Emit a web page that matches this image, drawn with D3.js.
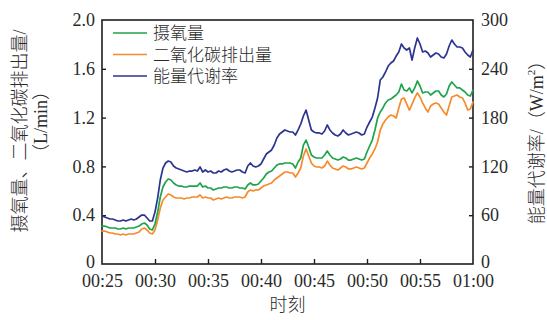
<!DOCTYPE html>
<html>
<head>
<meta charset="utf-8">
<script src="https://cdn.jsdelivr.net/npm/d3@7"></script>
<style>
  html, body { margin: 0; padding: 0; background: #fff; }
  svg { display: block; }
  text { font-family: "Liberation Serif", "Times New Roman", "Noto Sans CJK SC", serif; fill: #2a2a2a; }
  .cjk { font-weight: 300; }
</style>
</head>
<body>
<svg id="chart" width="547" height="320"></svg>
<script>
// Samples every 15 s from 00:25 to 01:00 (minutes after midnight)
const startMinute = 25;
const stepMinutes = 0.25;

// Oxygen uptake, L/min
const oxygenUptake = [
  0.311, 0.311, 0.303, 0.295, 0.295, 0.295, 0.287, 0.287, 0.295, 0.287,
  0.295, 0.295, 0.295, 0.303, 0.311, 0.328, 0.336, 0.320, 0.287, 0.279,
  0.328, 0.426, 0.549, 0.631, 0.672, 0.697, 0.689, 0.664, 0.648, 0.639,
  0.639, 0.631, 0.631, 0.639, 0.639, 0.639, 0.639, 0.664, 0.631, 0.639,
  0.623, 0.623, 0.607, 0.615, 0.623, 0.623, 0.631, 0.631, 0.623, 0.623,
  0.631, 0.631, 0.623, 0.623, 0.615, 0.648, 0.664, 0.648, 0.648, 0.656,
  0.680, 0.705, 0.738, 0.754, 0.762, 0.787, 0.811, 0.820, 0.820, 0.828,
  0.828, 0.828, 0.820, 0.787, 0.836, 0.869, 0.975, 1.016, 0.959, 0.893,
  0.877, 0.869, 0.869, 0.869, 0.893, 0.926, 0.893, 0.869, 0.861, 0.852,
  0.861, 0.877, 0.869, 0.852, 0.852, 0.861, 0.869, 0.861, 0.852, 0.861,
  0.918, 0.967, 1.016, 1.098, 1.197, 1.246, 1.279, 1.320, 1.344, 1.352,
  1.369, 1.385, 1.410, 1.475, 1.426, 1.418, 1.443, 1.402, 1.443, 1.500,
  1.459, 1.402, 1.410, 1.410, 1.385, 1.402, 1.418, 1.418, 1.385, 1.369,
  1.393, 1.459, 1.492, 1.467, 1.443, 1.443, 1.426, 1.410, 1.385, 1.377,
  1.426
];

// Carbon dioxide output, L/min
const co2Output = [
  0.270, 0.270, 0.262, 0.254, 0.254, 0.246, 0.246, 0.238, 0.246, 0.238,
  0.246, 0.246, 0.246, 0.254, 0.262, 0.287, 0.295, 0.279, 0.254, 0.246,
  0.279, 0.361, 0.459, 0.525, 0.549, 0.574, 0.566, 0.549, 0.541, 0.541,
  0.541, 0.533, 0.541, 0.541, 0.549, 0.549, 0.549, 0.566, 0.541, 0.549,
  0.541, 0.541, 0.525, 0.533, 0.541, 0.533, 0.541, 0.549, 0.541, 0.541,
  0.549, 0.549, 0.549, 0.541, 0.549, 0.590, 0.607, 0.598, 0.607, 0.607,
  0.623, 0.639, 0.648, 0.656, 0.664, 0.689, 0.705, 0.721, 0.738, 0.754,
  0.754, 0.746, 0.746, 0.713, 0.746, 0.787, 0.885, 0.943, 0.885, 0.828,
  0.803, 0.795, 0.795, 0.787, 0.803, 0.844, 0.811, 0.787, 0.779, 0.770,
  0.787, 0.803, 0.795, 0.779, 0.779, 0.787, 0.795, 0.787, 0.779, 0.787,
  0.828, 0.869, 0.902, 0.943, 1.000, 1.098, 1.148, 1.180, 1.205, 1.221,
  1.213, 1.197, 1.279, 1.352, 1.361, 1.311, 1.262, 1.311, 1.361, 1.402,
  1.369, 1.320, 1.279, 1.246, 1.295, 1.311, 1.320, 1.311, 1.279, 1.246,
  1.221, 1.295, 1.369, 1.377, 1.385, 1.369, 1.361, 1.320, 1.262, 1.270,
  1.328
];

// Energy metabolic rate, W/m²
const metabolicRate = [
  59.0, 57.8, 56.6, 55.3, 55.3, 54.1, 52.9, 52.9, 54.1, 52.9,
  54.1, 55.3, 54.1, 55.3, 57.8, 60.2, 60.2, 56.6, 52.9, 52.9,
  63.9, 81.1, 103.3, 118.0, 124.2, 126.6, 125.4, 120.5, 118.0, 116.8,
  115.6, 114.3, 113.1, 114.3, 114.3, 115.6, 114.3, 119.3, 113.1, 115.6,
  113.1, 114.3, 111.9, 111.9, 114.3, 113.1, 115.6, 116.8, 114.3, 113.1,
  114.3, 115.6, 115.6, 113.1, 111.9, 120.5, 124.2, 120.5, 119.3, 120.5,
  123.0, 129.1, 135.2, 137.7, 140.2, 146.3, 154.9, 159.8, 162.3, 164.8,
  163.5, 162.3, 162.3, 158.6, 164.8, 172.1, 182.0, 189.3, 177.0, 164.8,
  162.3, 161.1, 161.1, 159.8, 163.5, 170.9, 164.8, 161.1, 158.6, 157.4,
  159.8, 164.8, 161.1, 158.6, 159.8, 161.1, 162.3, 161.1, 158.6, 159.8,
  168.4, 174.6, 180.7, 191.8, 204.1, 226.2, 229.9, 236.1, 243.4, 247.1,
  249.6, 255.7, 260.7, 270.5, 265.6, 263.1, 265.6, 250.8, 265.6, 277.9,
  270.5, 260.7, 261.9, 259.4, 254.5, 257.0, 259.4, 258.2, 254.5, 253.3,
  258.2, 268.0, 275.4, 270.5, 266.8, 266.8, 265.6, 260.7, 257.0, 254.5,
  263.1
];

const xTicks = [25, 30, 35, 40, 45, 50, 55, 60];
const xTickLabels = ["00:25", "00:30", "00:35", "00:40", "00:45", "00:50", "00:55", "01:00"];
const leftTicks = [0, 0.4, 0.8, 1.2, 1.6, 2.0];
const leftTickLabels = ["0", "0.4", "0.8", "1.2", "1.6", "2.0"];
const rightTicks = [0, 60, 120, 180, 240, 300];
const rightTickLabels = ["0", "60", "120", "180", "240", "300"];
const legendNames = ["摄氧量", "二氧化碳排出量", "能量代谢率"];
const seriesColors = ["#1ea34b", "#f68b2d", "#2b3490"];

const svg = d3.select("#chart");
const plot = { left: 102, right: 473, top: 20, bottom: 264 };

const x = d3.scaleLinear().domain([25, 60]).range([plot.left, plot.right]);
const yLeft = d3.scaleLinear().domain([0, 2]).range([plot.bottom, plot.top]);
const yRight = d3.scaleLinear().domain([0, 300]).range([plot.bottom, plot.top]);

const minuteAt = i => startMinute + i * stepMinutes;

// Frame around the plotting area
svg.append("rect")
  .attr("x", plot.left).attr("y", plot.top)
  .attr("width", plot.right - plot.left).attr("height", plot.bottom - plot.top)
  .attr("fill", "none").attr("stroke", "#1e1e1e").attr("stroke-width", 1.6);

// Axes with inward ticks
const styleAxis = g => {
  g.select(".domain").remove();
  g.selectAll(".tick line").attr("stroke", "#1e1e1e").attr("stroke-width", 1.4);
  g.selectAll(".tick text").attr("font-size", 18).attr("fill", "#2a2a2a")
    .attr("font-family", "'Liberation Serif', 'Times New Roman', serif");
};

svg.append("g")
  .attr("transform", `translate(0,${plot.bottom})`)
  .call(d3.axisBottom(x).tickValues(xTicks).tickFormat((d, i) => xTickLabels[i])
    .tickSizeInner(-5).tickSizeOuter(0).tickPadding(10))
  .call(styleAxis)
  .call(g => g.selectAll(".tick").filter(d => d === 25 || d === 60).select("line").remove());

svg.append("g")
  .attr("transform", `translate(${plot.left},0)`)
  .call(d3.axisLeft(yLeft).tickValues(leftTicks).tickFormat((d, i) => leftTickLabels[i])
    .tickSizeInner(-4).tickSizeOuter(0).tickPadding(7))
  .call(styleAxis)
  .call(g => g.selectAll(".tick").filter(d => d === 0 || d === 2).select("line").remove())
  .call(g => g.selectAll(".tick").filter(d => d === 0).select("text").attr("dy", "0.2em"));

svg.append("g")
  .attr("transform", `translate(${plot.right},0)`)
  .call(d3.axisRight(yRight).tickValues(rightTicks).tickFormat((d, i) => rightTickLabels[i])
    .tickSizeInner(-4).tickSizeOuter(0).tickPadding(8))
  .call(styleAxis)
  .call(g => g.selectAll(".tick").filter(d => d === 0 || d === 300).select("line").remove())
  .call(g => g.selectAll(".tick").filter(d => d === 0).select("text").attr("dy", "0.2em"));

// Series lines
const lineLeft = d3.line().x((d, i) => x(minuteAt(i))).y(d => yLeft(d));
const lineRight = d3.line().x((d, i) => x(minuteAt(i))).y(d => yRight(d));

const drawSeries = (values, gen, color) =>
  svg.append("path").datum(values)
    .attr("d", gen)
    .attr("fill", "none")
    .attr("stroke", color)
    .attr("stroke-width", 1.7)
    .attr("stroke-linejoin", "round")
    .attr("stroke-linecap", "round");

drawSeries(co2Output, lineLeft, seriesColors[1]);
drawSeries(oxygenUptake, lineLeft, seriesColors[0]);
drawSeries(metabolicRate, lineRight, seriesColors[2]);

// Legend
const legend = svg.append("g").attr("transform", "translate(113,33)");
legendNames.forEach((name, i) => {
  const row = legend.append("g").attr("transform", `translate(0,${i * 21.5})`);
  row.append("line").attr("x1", 0).attr("x2", 34).attr("y1", 0).attr("y2", 0)
    .attr("stroke", seriesColors[i]).attr("stroke-width", 1.7);
  row.append("text").attr("class", "cjk").attr("x", 40).attr("y", 0).attr("dy", "0.36em")
    .attr("font-size", 17).text(name);
});

// Axis titles
svg.append("text").attr("class", "cjk")
  .attr("transform", "translate(20,131) rotate(-90)")
  .attr("text-anchor", "middle").attr("dy", "0.35em")
  .attr("font-size", 18)
  .text("摄氧量、二氧化碳排出量/");

svg.append("text").attr("class", "cjk")
  .attr("transform", "translate(41,122) rotate(-90)")
  .attr("text-anchor", "middle").attr("dy", "0.35em")
  .attr("font-size", 18)
  .text("（L/min）");

const rightTitle = svg.append("text").attr("class", "cjk")
  .attr("transform", "translate(537,138) rotate(-90)")
  .attr("text-anchor", "middle").attr("dy", "0.35em")
  .attr("font-size", 18);
rightTitle.append("tspan").text("能量代谢率/（W/m");
rightTitle.append("tspan").attr("font-size", 11).attr("dy", "-0.75em").text("2");
rightTitle.append("tspan").attr("dy", "0.45em").text("）");

svg.append("text").attr("class", "cjk")
  .attr("x", (plot.left + plot.right) / 2).attr("y", 305)
  .attr("text-anchor", "middle").attr("dy", "0.35em")
  .attr("font-size", 18)
  .text("时刻");
</script>
</body>
</html>
